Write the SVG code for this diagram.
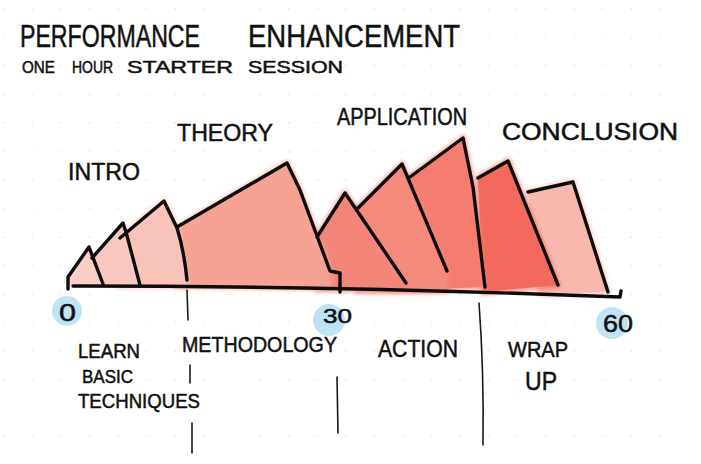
<svg xmlns="http://www.w3.org/2000/svg" width="701" height="464" viewBox="0 0 701 464">
<defs>
<pattern id="dots" x="3" y="8" width="28.5" height="28.5" patternUnits="userSpaceOnUse">
<circle cx="1" cy="1" r="1" fill="#ececec"/>
</pattern>
<filter id="soft" x="-10%" y="-10%" width="120%" height="120%"><feGaussianBlur stdDeviation="1.5"/></filter>
</defs>
<style>
text{font-family:"Liberation Sans","DejaVu Sans",sans-serif;fill:#111;stroke:#111;stroke-width:0.5;}
.ink{fill:none;stroke:#0d0d0d;stroke-width:3.4;stroke-linecap:round;stroke-linejoin:round;}
.thin{fill:none;stroke:#1a1a1a;stroke-width:1.6;stroke-linecap:round;}
.spill{stroke-width:7;stroke-linejoin:round;opacity:0.55;filter:url(#soft);}
.dot{fill:#bfe5f5;}
</style>
<rect width="701" height="464" fill="#ffffff"/>
<rect width="701" height="464" fill="url(#dots)"/>

<g id="title">
<text x="20" y="47" font-size="32" textLength="180" lengthAdjust="spacingAndGlyphs">PERFORMANCE</text>
<text x="248" y="47" font-size="32" textLength="212" lengthAdjust="spacingAndGlyphs">ENHANCEMENT</text>
<text x="22" y="73" font-size="17" textLength="33" lengthAdjust="spacingAndGlyphs">ONE</text>
<text x="72" y="73" font-size="17" textLength="41" lengthAdjust="spacingAndGlyphs">HOUR</text>
<text x="127" y="73" font-size="17" textLength="106" lengthAdjust="spacingAndGlyphs">STARTER</text>
<text x="248" y="73" font-size="17" textLength="95" lengthAdjust="spacingAndGlyphs">SESSION</text>
</g>

<g id="fills">
<polygon points="528,192 573,182 608,292 540,294" fill="#f9b8ad" stroke="#f9b8ad" class="spill"/>
<polygon points="528,192 573,182 608,292 540,294" fill="#f9b8ad"/>
<polygon points="478,178 508,161 558,285 483,292" fill="#f26a5c" stroke="#f26a5c" class="spill"/>
<polygon points="478,178 508,161 558,285 483,292" fill="#f26a5c"/>
<polygon points="410,177 463,138 473,187 485,287 410,290" fill="#f47d70" stroke="#f47d70" class="spill"/>
<polygon points="410,177 463,138 473,187 485,287 410,290" fill="#f47d70"/>
<polygon points="358,208 402,164 447,271 447,291 358,291" fill="#f58a7d" stroke="#f58a7d" class="spill"/>
<polygon points="358,208 402,164 447,271 447,291 358,291" fill="#f58a7d"/>
<polygon points="317,237 345,193 406,283 406,290 317,289" fill="#f48579" stroke="#f48579" class="spill"/>
<polygon points="317,237 345,193 406,283 406,290 317,289" fill="#f48579"/>
<polygon points="177,228 287,163 300,190 330,271 330,288 177,286" fill="#f7a394" stroke="#f7a394" class="spill"/>
<polygon points="177,228 287,163 300,190 330,271 330,288 177,286" fill="#f7a394"/>
<polygon points="120,238 164,201 177,228 187,286 120,286" fill="#f9c3ba" stroke="#f9c3ba" class="spill"/>
<polygon points="120,238 164,201 177,228 187,286 120,286" fill="#f9c3ba"/>
<polygon points="92,258 123,223 140,286 92,286" fill="#fac8c0"/>
<polygon points="68,285 68,277 89,247 103,285" fill="#fbcfc8"/>
</g>

<g id="blue-markers">
<circle class="dot" cx="67" cy="311" r="15"/>
<circle class="dot" cx="329" cy="320" r="16"/>
<circle class="dot" cx="612" cy="323" r="16"/>
</g>

<g id="connectors">
<path class="ink" d="M73,286 Q340,286 620,297 L621,291"/>
<path class="ink" d="M68,289 L68,277 L89,247 L103,284"/>
<path class="ink" d="M92,258 L123,223 L126,232 L140,285"/>
<path class="ink" d="M120,238 L164,201 L177,228 Q184,250 187,280"/>
<path class="ink" d="M177,227 L287,163 L300,190 L330,271 L340,273 L340,292"/>
<path class="ink" d="M317,237 L345,193 L406,283"/>
<path class="ink" d="M358,208 L402,164 L447,271"/>
<path class="ink" d="M410,177 L463,138 L473,187 L485,287"/>
<path class="ink" d="M478,178 L508,161 L558,285"/>
<path class="ink" d="M528,192 L573,182 L608,292"/>
<path class="thin" d="M187,290 L188,320 M190,365 L190,383 M192,423 L192,453"/>
<path class="thin" d="M337,377 L338,433"/>
<path class="thin" d="M479,303 Q484,370 483,445"/>
</g>

<g id="labels">
<text x="68" y="180" font-size="24" textLength="72" lengthAdjust="spacingAndGlyphs">INTRO</text>
<text x="177" y="141" font-size="24" textLength="96" lengthAdjust="spacingAndGlyphs">THEORY</text>
<text x="337" y="125" font-size="23" textLength="130" lengthAdjust="spacingAndGlyphs">APPLICATION</text>
<text x="502" y="140" font-size="23" textLength="176" lengthAdjust="spacingAndGlyphs">CONCLUSION</text>
<text x="59" y="321" font-size="24" textLength="17" lengthAdjust="spacingAndGlyphs">0</text>
<text x="323" y="323" font-size="20" textLength="29" lengthAdjust="spacingAndGlyphs">30</text>
<text x="603" y="332" font-size="23" textLength="30" lengthAdjust="spacingAndGlyphs">60</text>
<text x="78" y="358" font-size="20" textLength="62" lengthAdjust="spacingAndGlyphs">LEARN</text>
<text x="82" y="383" font-size="19" textLength="51" lengthAdjust="spacingAndGlyphs">BASIC</text>
<text x="78" y="408" font-size="20" textLength="122" lengthAdjust="spacingAndGlyphs">TECHNIQUES</text>
<text x="182" y="352" font-size="22" textLength="155" lengthAdjust="spacingAndGlyphs">METHODOLOGY</text>
<text x="378" y="357" font-size="24" textLength="80" lengthAdjust="spacingAndGlyphs">ACTION</text>
<text x="508" y="357" font-size="22" textLength="60" lengthAdjust="spacingAndGlyphs">WRAP</text>
<text x="525" y="390" font-size="26" textLength="32" lengthAdjust="spacingAndGlyphs">UP</text>
</g>
</svg>
